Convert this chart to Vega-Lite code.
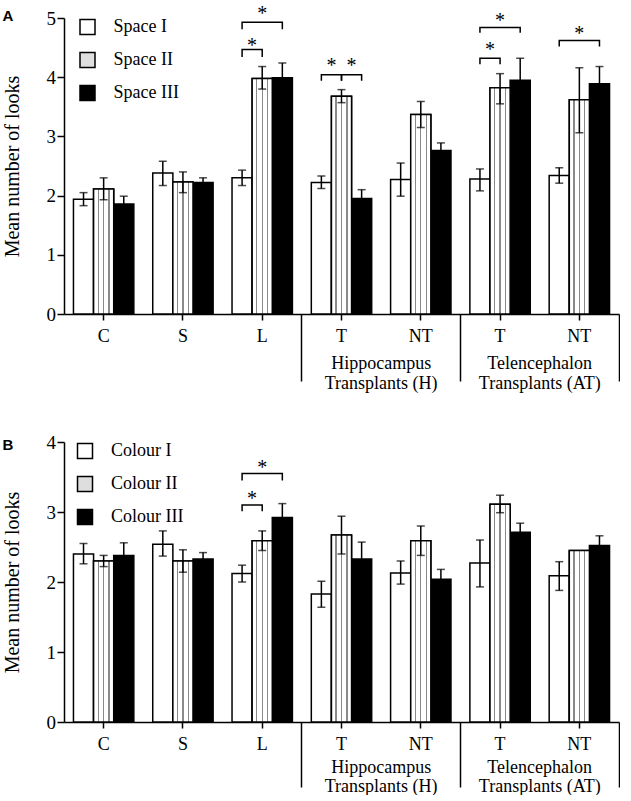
{
  "$schema": "https://vega.github.io/schema/vega-lite/v6.json",
  "background": "white",
  "padding": {"left": 2, "top": 4, "right": 0, "bottom": 0},
  "spacing": 41,
  "config": {
    "view": {"stroke": null},
    "axis": {"grid": false},
    "font": "Liberation Serif"
  },
  "datasets": {
    "barsA": [
      {"g": "C", "s": "I", "v": 1.94, "lo": 1.83, "hi": 2.05},
      {"g": "C", "s": "II", "v": 2.11, "lo": 1.93, "hi": 2.30},
      {"g": "C", "s": "III", "v": 1.86, "lo": 1.73, "hi": 1.99},
      {"g": "S", "s": "I", "v": 2.38, "lo": 2.17, "hi": 2.58},
      {"g": "S", "s": "II", "v": 2.23, "lo": 2.05, "hi": 2.40},
      {"g": "S", "s": "III", "v": 2.22, "lo": 2.14, "hi": 2.30},
      {"g": "L", "s": "I", "v": 2.30, "lo": 2.17, "hi": 2.43},
      {"g": "L", "s": "II", "v": 3.98, "lo": 3.80, "hi": 4.18},
      {"g": "L", "s": "III", "v": 3.99, "lo": 3.74, "hi": 4.24},
      {"g": "H_T", "s": "I", "v": 2.22, "lo": 2.12, "hi": 2.33},
      {"g": "H_T", "s": "II", "v": 3.68, "lo": 3.57, "hi": 3.79},
      {"g": "H_T", "s": "III", "v": 1.95, "lo": 1.80, "hi": 2.10},
      {"g": "H_NT", "s": "I", "v": 2.27, "lo": 1.99, "hi": 2.55},
      {"g": "H_NT", "s": "II", "v": 3.37, "lo": 3.15, "hi": 3.59},
      {"g": "H_NT", "s": "III", "v": 2.76, "lo": 2.63, "hi": 2.89},
      {"g": "A_T", "s": "I", "v": 2.28, "lo": 2.08, "hi": 2.45},
      {"g": "A_T", "s": "II", "v": 3.82, "lo": 3.55, "hi": 4.06},
      {"g": "A_T", "s": "III", "v": 3.95, "lo": 3.58, "hi": 4.32},
      {"g": "A_NT", "s": "I", "v": 2.34, "lo": 2.21, "hi": 2.47},
      {"g": "A_NT", "s": "II", "v": 3.62, "lo": 3.06, "hi": 4.16},
      {"g": "A_NT", "s": "III", "v": 3.89, "lo": 3.60, "hi": 4.18}
    ],
    "barsB": [
      {"g": "C", "s": "I", "v": 2.40, "lo": 2.26, "hi": 2.55},
      {"g": "C", "s": "II", "v": 2.30, "lo": 2.22, "hi": 2.38},
      {"g": "C", "s": "III", "v": 2.38, "lo": 2.20, "hi": 2.56},
      {"g": "S", "s": "I", "v": 2.54, "lo": 2.37, "hi": 2.73},
      {"g": "S", "s": "II", "v": 2.30, "lo": 2.14, "hi": 2.46},
      {"g": "S", "s": "III", "v": 2.33, "lo": 2.24, "hi": 2.42},
      {"g": "L", "s": "I", "v": 2.12, "lo": 2.00, "hi": 2.24},
      {"g": "L", "s": "II", "v": 2.59, "lo": 2.45, "hi": 2.73},
      {"g": "L", "s": "III", "v": 2.92, "lo": 2.72, "hi": 3.12},
      {"g": "H_T", "s": "I", "v": 1.83, "lo": 1.64, "hi": 2.01},
      {"g": "H_T", "s": "II", "v": 2.67, "lo": 2.40, "hi": 2.94},
      {"g": "H_T", "s": "III", "v": 2.33, "lo": 2.09, "hi": 2.57},
      {"g": "H_NT", "s": "I", "v": 2.13, "lo": 1.97, "hi": 2.30},
      {"g": "H_NT", "s": "II", "v": 2.59, "lo": 2.38, "hi": 2.80},
      {"g": "H_NT", "s": "III", "v": 2.04, "lo": 1.90, "hi": 2.18},
      {"g": "A_T", "s": "I", "v": 2.27, "lo": 1.93, "hi": 2.60},
      {"g": "A_T", "s": "II", "v": 3.11, "lo": 2.99, "hi": 3.24},
      {"g": "A_T", "s": "III", "v": 2.71, "lo": 2.58, "hi": 2.84},
      {"g": "A_NT", "s": "I", "v": 2.09, "lo": 1.88, "hi": 2.29},
      {"g": "A_NT", "s": "II", "v": 2.45, "lo": null, "hi": null},
      {"g": "A_NT", "s": "III", "v": 2.52, "lo": 2.38, "hi": 2.66}
    ],
    "bracketsA": [
      {"id": "L1", "g": "L", "s": "I", "y": 4.34, "o": 1},
      {"id": "L1", "g": "L", "s": "I", "y": 4.47, "o": 2},
      {"id": "L1", "g": "L", "s": "II", "y": 4.47, "o": 3},
      {"id": "L1", "g": "L", "s": "II", "y": 4.34, "o": 4},
      {"id": "L2", "g": "L", "s": "I", "y": 4.81, "o": 1},
      {"id": "L2", "g": "L", "s": "I", "y": 4.93, "o": 2},
      {"id": "L2", "g": "L", "s": "III", "y": 4.93, "o": 3},
      {"id": "L2", "g": "L", "s": "III", "y": 4.81, "o": 4},
      {"id": "HT1", "g": "H_T", "s": "I", "y": 3.94, "o": 1},
      {"id": "HT1", "g": "H_T", "s": "I", "y": 4.04, "o": 2},
      {"id": "HT1", "g": "H_T", "s": "II", "y": 4.04, "o": 3},
      {"id": "HT1", "g": "H_T", "s": "II", "y": 3.94, "o": 4},
      {"id": "HT2", "g": "H_T", "s": "II", "y": 3.94, "o": 1},
      {"id": "HT2", "g": "H_T", "s": "II", "y": 4.04, "o": 2},
      {"id": "HT2", "g": "H_T", "s": "III", "y": 4.04, "o": 3},
      {"id": "HT2", "g": "H_T", "s": "III", "y": 3.94, "o": 4},
      {"id": "AT1", "g": "A_T", "s": "I", "y": 4.22, "o": 1},
      {"id": "AT1", "g": "A_T", "s": "I", "y": 4.32, "o": 2},
      {"id": "AT1", "g": "A_T", "s": "II", "y": 4.32, "o": 3},
      {"id": "AT1", "g": "A_T", "s": "II", "y": 4.22, "o": 4},
      {"id": "AT2", "g": "A_T", "s": "I", "y": 4.75, "o": 1},
      {"id": "AT2", "g": "A_T", "s": "I", "y": 4.84, "o": 2},
      {"id": "AT2", "g": "A_T", "s": "III", "y": 4.84, "o": 3},
      {"id": "AT2", "g": "A_T", "s": "III", "y": 4.75, "o": 4},
      {"id": "ANT", "g": "A_NT", "s": "I", "y": 4.52, "o": 1},
      {"id": "ANT", "g": "A_NT", "s": "I", "y": 4.62, "o": 2},
      {"id": "ANT", "g": "A_NT", "s": "III", "y": 4.62, "o": 3},
      {"id": "ANT", "g": "A_NT", "s": "III", "y": 4.52, "o": 4}
    ],
    "starsMidA": [
      {"g": "L", "s": "I", "y": 4.6},
      {"g": "H_T", "s": "I", "y": 4.25},
      {"g": "H_T", "s": "II", "y": 4.25},
      {"g": "A_T", "s": "I", "y": 4.52}
    ],
    "starsCtrA": [
      {"g": "L", "s": "II", "y": 5.13},
      {"g": "A_T", "s": "II", "y": 5.02},
      {"g": "A_NT", "s": "II", "y": 4.8}
    ],
    "bracketsB": [
      {"id": "L1", "g": "L", "s": "I", "y": 3.01, "o": 1},
      {"id": "L1", "g": "L", "s": "I", "y": 3.10, "o": 2},
      {"id": "L1", "g": "L", "s": "II", "y": 3.10, "o": 3},
      {"id": "L1", "g": "L", "s": "II", "y": 3.01, "o": 4},
      {"id": "L2", "g": "L", "s": "I", "y": 3.45, "o": 1},
      {"id": "L2", "g": "L", "s": "I", "y": 3.55, "o": 2},
      {"id": "L2", "g": "L", "s": "III", "y": 3.55, "o": 3},
      {"id": "L2", "g": "L", "s": "III", "y": 3.45, "o": 4}
    ],
    "starsMidB": [
      {"g": "L", "s": "I", "y": 3.24}
    ],
    "starsCtrB": [
      {"g": "L", "s": "II", "y": 3.68}
    ]
  },
  "resolve": {"scale": {"fill": "independent", "y": "independent"}, "legend": {"fill": "independent"}},
  "vconcat": [
    {
      "width": 555,
      "height": 296,
      "title": {"text": "A", "anchor": "start", "frame": "bounds", "orient": "top", "font": "Liberation Sans", "fontSize": 15, "fontWeight": "bold", "color": "black", "baseline": "alphabetic", "offset": -32},
      "resolve": {"axis": {"x": "independent", "y": "independent"}},
      "layer": [
        {
          "data": {"name": "barsA"},
          "mark": {"type": "bar", "stroke": "black", "strokeWidth": 1.5},
          "encoding": {
            "x": {"field": "g", "type": "nominal", "scale": {"domain": ["C", "S", "L", "H_T", "H_NT", "A_T", "A_NT"], "paddingInner": 0, "paddingOuter": 0},
              "axis": {"orient": "bottom", "title": null, "labelAngle": 0, "labelExpr": "datum.value == 'H_T' || datum.value == 'A_T' ? 'T' : (datum.value == 'H_NT' || datum.value == 'A_NT') ? 'NT' : datum.value", "tickSize": 6, "tickWidth": 1.5, "tickColor": "black", "domainColor": "black", "domainWidth": 1.5, "labelPadding": 7, "labelFont": "Liberation Serif", "labelFontSize": 18, "labelColor": "black"}},
            "xOffset": {"field": "s", "type": "nominal", "scale": {"domain": ["I", "II", "III"], "paddingInner": 0, "paddingOuter": 0.47}},
            "y": {"field": "v", "type": "quantitative", "scale": {"domain": [0, 5], "nice": false},
              "axis": {"orient": "left", "title": "Mean number of looks", "values": [0, 1, 2, 3, 4, 5], "titleFont": "Liberation Serif", "titleFontSize": 20, "titleFontWeight": "normal", "titleColor": "black", "titlePadding": 23.5, "labelFont": "Liberation Serif", "labelFontSize": 19, "labelColor": "black", "labelPadding": 1.5, "tickSize": 7, "tickWidth": 1.5, "tickColor": "black", "domainColor": "black", "domainWidth": 1.5}},
            "fill": {"field": "s", "type": "nominal",
              "scale": {"domain": ["I", "II", "III"], "range": ["white", "#dedede", "black"]},
              "legend": {"orient": "none", "legendX": 14.5, "legendY": 0, "title": null, "symbolType": "square", "symbolSize": 225, "symbolStrokeColor": "black", "symbolStrokeWidth": 1.5, "symbolOpacity": 1, "labelFont": "Liberation Serif", "labelFontSize": 18, "labelColor": "black", "labelOffset": 17, "rowPadding": 11, "padding": 0, "labelExpr": "'Space ' + datum.label"}}
          }
        },
        {
          "data": {"name": "barsA"},
          "transform": [{"filter": "datum.s == 'II'"}],
          "mark": {"type": "bar", "stroke": "black", "strokeWidth": 1.5, "fill": {"gradient": "linear", "x1": 0, "y1": 0, "x2": 1, "y2": 0, "stops": [{"offset": 0, "color": "white"}, {"offset": 0.2, "color": "white"}, {"offset": 0.2, "color": "#8a8a8a"}, {"offset": 0.26, "color": "#8a8a8a"}, {"offset": 0.26, "color": "white"}, {"offset": 0.47, "color": "white"}, {"offset": 0.47, "color": "#8a8a8a"}, {"offset": 0.53, "color": "#8a8a8a"}, {"offset": 0.53, "color": "white"}, {"offset": 0.74, "color": "white"}, {"offset": 0.74, "color": "#8a8a8a"}, {"offset": 0.8, "color": "#8a8a8a"}, {"offset": 0.8, "color": "white"}, {"offset": 1, "color": "white"}]}},
          "encoding": {
            "x": {"field": "g", "type": "nominal", "axis": null},
            "xOffset": {"field": "s", "type": "nominal"},
            "y": {"field": "v", "type": "quantitative", "axis": null}
          }
        },
        {
          "data": {"name": "barsA"},
          "mark": {"type": "rule", "color": "black", "strokeWidth": 1.5},
          "encoding": {
            "x": {"field": "g", "type": "nominal",
              "axis": {"orient": "bottom", "title": null, "values": ["L", "H_NT", "A_NT"], "bandPosition": 1, "tickSize": 67, "tickWidth": 1.5, "tickColor": "black", "domain": false, "labelAngle": 0, "labelOffset": -39.65, "labelPadding": -27, "labelExpr": "datum.value == 'H_NT' ? ['Hippocampus', 'Transplants (H)'] : datum.value == 'A_NT' ? ['Telencephalon', 'Transplants (AT)'] : ''", "labelFont": "Liberation Serif", "labelFontSize": 18, "labelColor": "black", "labelLineHeight": 20, "labelOverlap": false, "labelBound": false}},
            "xOffset": {"field": "s", "type": "nominal"},
            "y": {"field": "lo", "type": "quantitative", "axis": null},
            "y2": {"field": "hi"}
          }
        },
        {
          "data": {"name": "barsA"},
          "mark": {"type": "tick", "color": "black", "thickness": 1.5, "size": 8, "orient": "horizontal"},
          "encoding": {
            "x": {"field": "g", "type": "nominal", "axis": null},
            "xOffset": {"field": "s", "type": "nominal"},
            "y": {"field": "hi", "type": "quantitative", "axis": null}
          }
        },
        {
          "data": {"name": "barsA"},
          "mark": {"type": "tick", "color": "black", "thickness": 1.5, "size": 8, "orient": "horizontal"},
          "encoding": {
            "x": {"field": "g", "type": "nominal", "axis": null},
            "xOffset": {"field": "s", "type": "nominal"},
            "y": {"field": "lo", "type": "quantitative", "axis": null}
          }
        },
        {
          "data": {"name": "bracketsA"},
          "mark": {"type": "line", "color": "black", "strokeWidth": 1.5},
          "encoding": {
            "x": {"field": "g", "type": "nominal", "axis": null},
            "xOffset": {"field": "s", "type": "nominal"},
            "y": {"field": "y", "type": "quantitative", "axis": null},
            "detail": {"field": "id"},
            "order": {"field": "o"}
          }
        },
        {
          "data": {"name": "starsMidA"},
          "mark": {"type": "text", "text": "*", "font": "Liberation Serif", "fontSize": 20, "color": "black", "baseline": "middle", "dx": 10, "dy": 4},
          "encoding": {
            "x": {"field": "g", "type": "nominal", "axis": null},
            "xOffset": {"field": "s", "type": "nominal"},
            "y": {"field": "y", "type": "quantitative", "axis": null}
          }
        },
        {
          "data": {"name": "starsCtrA"},
          "mark": {"type": "text", "text": "*", "font": "Liberation Serif", "fontSize": 20, "color": "black", "baseline": "middle", "dy": 4},
          "encoding": {
            "x": {"field": "g", "type": "nominal", "axis": null},
            "xOffset": {"field": "s", "type": "nominal"},
            "y": {"field": "y", "type": "quantitative", "axis": null}
          }
        }
      ]
    },
    {
      "width": 555,
      "height": 280,
      "title": {"text": "B", "anchor": "start", "frame": "bounds", "orient": "top", "font": "Liberation Sans", "fontSize": 15, "fontWeight": "bold", "color": "black", "baseline": "alphabetic", "offset": -31.5},
      "resolve": {"axis": {"x": "independent", "y": "independent"}},
      "layer": [
        {
          "data": {"name": "barsB"},
          "mark": {"type": "bar", "stroke": "black", "strokeWidth": 1.5},
          "encoding": {
            "x": {"field": "g", "type": "nominal", "scale": {"domain": ["C", "S", "L", "H_T", "H_NT", "A_T", "A_NT"], "paddingInner": 0, "paddingOuter": 0},
              "axis": {"orient": "bottom", "title": null, "labelAngle": 0, "labelExpr": "datum.value == 'H_T' || datum.value == 'A_T' ? 'T' : (datum.value == 'H_NT' || datum.value == 'A_NT') ? 'NT' : datum.value", "tickSize": 6, "tickWidth": 1.5, "tickColor": "black", "domainColor": "black", "domainWidth": 1.5, "labelPadding": 7, "labelFont": "Liberation Serif", "labelFontSize": 18, "labelColor": "black"}},
            "xOffset": {"field": "s", "type": "nominal", "scale": {"domain": ["I", "II", "III"], "paddingInner": 0, "paddingOuter": 0.47}},
            "y": {"field": "v", "type": "quantitative", "scale": {"domain": [0, 4], "nice": false},
              "axis": {"orient": "left", "title": "Mean number of looks", "values": [0, 1, 2, 3, 4], "titleFont": "Liberation Serif", "titleFontSize": 20, "titleFontWeight": "normal", "titleColor": "black", "titlePadding": 23.5, "labelFont": "Liberation Serif", "labelFontSize": 19, "labelColor": "black", "labelPadding": 1.5, "tickSize": 7, "tickWidth": 1.5, "tickColor": "black", "domainColor": "black", "domainWidth": 1.5}},
            "fill": {"field": "s", "type": "nominal",
              "scale": {"domain": ["I", "II", "III"], "range": ["white", "#dedede", "black"]},
              "legend": {"orient": "none", "legendX": 12, "legendY": 0, "title": null, "symbolType": "square", "symbolSize": 225, "symbolStrokeColor": "black", "symbolStrokeWidth": 1.5, "symbolOpacity": 1, "labelFont": "Liberation Serif", "labelFontSize": 18, "labelColor": "black", "labelOffset": 17, "rowPadding": 11, "padding": 0, "labelExpr": "'Colour ' + datum.label"}}
          }
        },
        {
          "data": {"name": "barsB"},
          "transform": [{"filter": "datum.s == 'II'"}],
          "mark": {"type": "bar", "stroke": "black", "strokeWidth": 1.5, "fill": {"gradient": "linear", "x1": 0, "y1": 0, "x2": 1, "y2": 0, "stops": [{"offset": 0, "color": "white"}, {"offset": 0.2, "color": "white"}, {"offset": 0.2, "color": "#8a8a8a"}, {"offset": 0.26, "color": "#8a8a8a"}, {"offset": 0.26, "color": "white"}, {"offset": 0.47, "color": "white"}, {"offset": 0.47, "color": "#8a8a8a"}, {"offset": 0.53, "color": "#8a8a8a"}, {"offset": 0.53, "color": "white"}, {"offset": 0.74, "color": "white"}, {"offset": 0.74, "color": "#8a8a8a"}, {"offset": 0.8, "color": "#8a8a8a"}, {"offset": 0.8, "color": "white"}, {"offset": 1, "color": "white"}]}},
          "encoding": {
            "x": {"field": "g", "type": "nominal", "axis": null},
            "xOffset": {"field": "s", "type": "nominal"},
            "y": {"field": "v", "type": "quantitative", "axis": null}
          }
        },
        {
          "data": {"name": "barsB"},
          "mark": {"type": "rule", "color": "black", "strokeWidth": 1.5},
          "encoding": {
            "x": {"field": "g", "type": "nominal",
              "axis": {"orient": "bottom", "title": null, "values": ["L", "H_NT", "A_NT"], "bandPosition": 1, "tickSize": 65, "tickWidth": 1.5, "tickColor": "black", "domain": false, "labelAngle": 0, "labelOffset": -39.65, "labelPadding": -29, "labelExpr": "datum.value == 'H_NT' ? ['Hippocampus', 'Transplants (H)'] : datum.value == 'A_NT' ? ['Telencephalon', 'Transplants (AT)'] : ''", "labelFont": "Liberation Serif", "labelFontSize": 18, "labelColor": "black", "labelLineHeight": 19, "labelOverlap": false, "labelBound": false}},
            "xOffset": {"field": "s", "type": "nominal"},
            "y": {"field": "lo", "type": "quantitative", "axis": null},
            "y2": {"field": "hi"}
          }
        },
        {
          "data": {"name": "barsB"},
          "mark": {"type": "tick", "color": "black", "thickness": 1.5, "size": 8, "orient": "horizontal"},
          "encoding": {
            "x": {"field": "g", "type": "nominal", "axis": null},
            "xOffset": {"field": "s", "type": "nominal"},
            "y": {"field": "hi", "type": "quantitative", "axis": null}
          }
        },
        {
          "data": {"name": "barsB"},
          "mark": {"type": "tick", "color": "black", "thickness": 1.5, "size": 8, "orient": "horizontal"},
          "encoding": {
            "x": {"field": "g", "type": "nominal", "axis": null},
            "xOffset": {"field": "s", "type": "nominal"},
            "y": {"field": "lo", "type": "quantitative", "axis": null}
          }
        },
        {
          "data": {"name": "bracketsB"},
          "mark": {"type": "line", "color": "black", "strokeWidth": 1.5},
          "encoding": {
            "x": {"field": "g", "type": "nominal", "axis": null},
            "xOffset": {"field": "s", "type": "nominal"},
            "y": {"field": "y", "type": "quantitative", "axis": null},
            "detail": {"field": "id"},
            "order": {"field": "o"}
          }
        },
        {
          "data": {"name": "starsMidB"},
          "mark": {"type": "text", "text": "*", "font": "Liberation Serif", "fontSize": 20, "color": "black", "baseline": "middle", "dx": 10, "dy": 4},
          "encoding": {
            "x": {"field": "g", "type": "nominal", "axis": null},
            "xOffset": {"field": "s", "type": "nominal"},
            "y": {"field": "y", "type": "quantitative", "axis": null}
          }
        },
        {
          "data": {"name": "starsCtrB"},
          "mark": {"type": "text", "text": "*", "font": "Liberation Serif", "fontSize": 20, "color": "black", "baseline": "middle", "dy": 4},
          "encoding": {
            "x": {"field": "g", "type": "nominal", "axis": null},
            "xOffset": {"field": "s", "type": "nominal"},
            "y": {"field": "y", "type": "quantitative", "axis": null}
          }
        }
      ]
    }
  ]
}
